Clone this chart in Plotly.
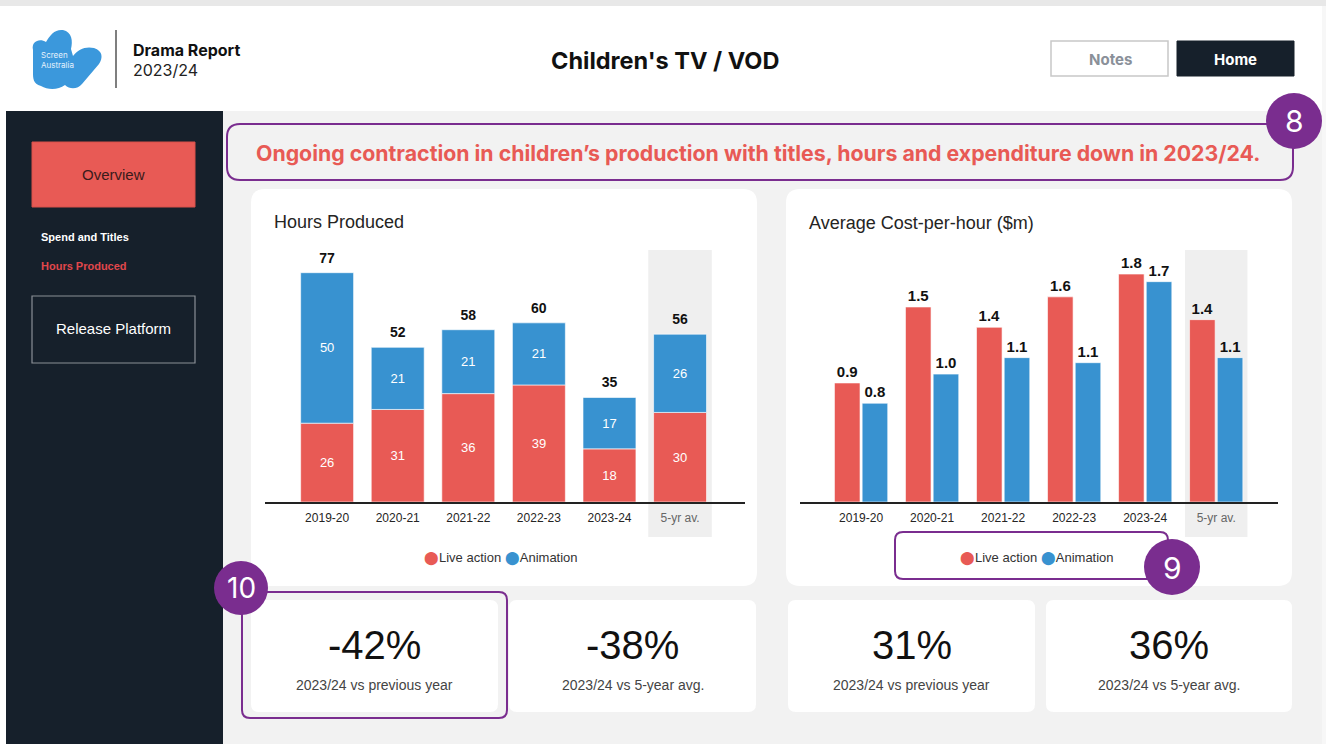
import plotly.graph_objects as go

W, H = 1326, 744

# ---------------- data ----------------
categories = ["2019-20", "2020-21", "2021-22", "2022-23", "2023-24", "5-yr av."]
series_names = ["Live action", "Animation"]
hours_live = [26.4, 31.0, 36.3, 39.2, 17.8, 30.0]
hours_anim = [50.4, 20.8, 21.4, 20.8, 17.2, 26.2]
cost_live = [0.94, 1.54, 1.38, 1.62, 1.80, 1.44]
cost_anim = [0.78, 1.01, 1.14, 1.10, 1.74, 1.14]
kpi_values = ["-42%", "-38%", "31%", "36%"]
kpi_labels = ["2023/24 vs previous year", "2023/24 vs 5-year avg.",
              "2023/24 vs previous year", "2023/24 vs 5-year avg."]
headline = "Ongoing contraction in children\u2019s production with titles, hours and expenditure down in 2023/24."
nav_items = ["Spend and Titles", "Hours Produced"]

# ---------------- style ----------------
RED = "#E85A55"
BLUE = "#3892D0"
NAVY = "#16202B"
BG = "#F2F2F2"
PURPLE = "#7A2D8F"
ARIAL = "Arial, Liberation Sans, sans-serif"
INTER = "Inter, Open Sans, sans-serif"


def X(px):
    return px / W


def Y(py):
    return 1 - py / H


def P(x, y):
    return f"{X(x):.5f},{Y(y):.5f}"


def rrect_path(x0, y0, x1, y1, r):
    return (f"M {P(x0 + r, y0)} L {P(x1 - r, y0)} Q {P(x1, y0)} {P(x1, y0 + r)} "
            f"L {P(x1, y1 - r)} Q {P(x1, y1)} {P(x1 - r, y1)} "
            f"L {P(x0 + r, y1)} Q {P(x0, y1)} {P(x0, y1 - r)} "
            f"L {P(x0, y0 + r)} Q {P(x0, y0)} {P(x0 + r, y0)} Z")


shapes = []
annotations = []


def rect(x0, y0, x1, y1, fill, line=None, lw=0, layer="below"):
    shapes.append(dict(type="rect", xref="paper", yref="paper", x0=X(x0), x1=X(x1),
                       y0=Y(y1), y1=Y(y0), fillcolor=fill, layer=layer,
                       line=dict(color=line or fill, width=lw)))


def rrect(x0, y0, x1, y1, r, fill, line=None, lw=0, layer="below"):
    shapes.append(dict(type="path", xref="paper", yref="paper", path=rrect_path(x0, y0, x1, y1, r),
                       fillcolor=fill, layer=layer,
                       line=dict(color=line or "rgba(0,0,0,0)", width=lw)))


def circle(cx, cy, r, fill, layer="above"):
    shapes.append(dict(type="circle", xref="paper", yref="paper", x0=X(cx - r), x1=X(cx + r),
                       y0=Y(cy + r), y1=Y(cy - r), fillcolor=fill, layer=layer,
                       line=dict(color=fill, width=0)))


def text(x, y, s, size, color, family=ARIAL, xanchor="center", bold=False):
    if bold:
        s = f"<b>{s}</b>"
    annotations.append(dict(xref="paper", yref="paper", x=X(x), y=Y(y), text=s, showarrow=False,
                            xanchor=xanchor, yanchor="middle", align="left",
                            font=dict(size=size, color=color, family=family)))


# ---------------- background / frame ----------------
rect(0, 0, W, 6, "#E8E8E8")
rect(0, 6, W, 111, "#FFFFFF")
rect(6, 111, 223, H, NAVY)
rect(223, 111, 1322, H, BG)
rect(1322, 6, W, H, "#F7F7F7")

# logo
logo = ("M " + P(33, 50) + " C " + P(31, 41) + " " + P(40, 38) + " " + P(46, 42) +
        " C " + P(50, 35) + " " + P(55, 29) + " " + P(63, 30) +
        " C " + P(72, 32) + " " + P(73, 41) + " " + P(71, 49) +
        " L " + P(73, 56) +
        " C " + P(78, 49) + " " + P(86, 46) + " " + P(94, 48) +
        " C " + P(103, 51) + " " + P(103, 58) + " " + P(99, 64) +
        " L " + P(82, 84) +
        " C " + P(78, 89) + " " + P(70, 90) + " " + P(65, 85) +
        " C " + P(58, 90) + " " + P(48, 90) + " " + P(41, 86) +
        " C " + P(33, 84) + " " + P(33, 78) + " " + P(33, 72) + " Z")
shapes.append(dict(type="path", xref="paper", yref="paper", path=logo, fillcolor="#3B98DC",
                   line=dict(width=0, color="#3B98DC"), layer="below"))
text(39, 60, "Screen<br>Australia", 8, "#E6F2FC", INTER, xanchor="left")
shapes.append(dict(type="line", xref="paper", yref="paper", x0=X(116), x1=X(116), y0=Y(30), y1=Y(88),
                   line=dict(color="#555555", width=1.5), layer="below"))
text(131, 50, "Drama Report", 16, "#111111", INTER, xanchor="left", bold=True)
text(131, 70, "2023/24", 16, "#222222", INTER, xanchor="left")
text(665, 60, "Children's TV / VOD", 23.5, "#111111", INTER, bold=True)

# buttons
rect(1051, 41, 1168, 76, "#FFFFFF", "#C8C8C8", 1.5)
text(1110, 59, "Notes", 15, "#8A9099", INTER, bold=True)
rect(1177, 41, 1294, 76, NAVY, NAVY, 1)
text(1235, 59, "Home", 15, "#FFFFFF", INTER, bold=True)

# sidebar
rect(32, 142, 195, 207, RED, "#D8504B", 1)
text(113, 174, "Overview", 15, "#3A1B1B", ARIAL)
text(39, 237, nav_items[0], 11, "#FFFFFF", ARIAL, xanchor="left", bold=True)
text(39, 266, nav_items[1], 11, "#E0474B", ARIAL, xanchor="left", bold=True)
rect(32, 296, 195, 363, NAVY, "#8A8F96", 1.2)
text(113, 329, "Release Platform", 15, "#FFFFFF", ARIAL)

# headline
rrect(227, 124, 1293, 180, 13, BG, PURPLE, 2)
text(758, 153, headline, 21.3, RED, INTER, bold=True)

# chart cards
rrect(251, 189, 757, 586, 14, "#FFFFFF")
rrect(786, 189, 1292, 586, 14, "#FFFFFF")

# 5-yr av shading (category reference)
avg_idx = categories.index("5-yr av.")
shapes.append(dict(type="rect", xref="x", yref="paper", x0=avg_idx - 0.45, x1=avg_idx + 0.45,
                   y0=Y(537), y1=Y(250), fillcolor="#EFEFEF", line=dict(width=0), layer="below"))
shapes.append(dict(type="rect", xref="x2", yref="paper", x0=avg_idx - 0.44, x1=avg_idx + 0.44,
                   y0=Y(537), y1=Y(250), fillcolor="#EFEFEF", line=dict(width=0), layer="below"))

text(272, 222, "Hours Produced", 18, "#252423", ARIAL, xanchor="left")
text(807, 223, "Average Cost-per-hour ($m)", 18, "#252423", ARIAL, xanchor="left")

DOT = "\u2B24"
legend_txt = (f'<span style="color:{RED}">{DOT}</span>{series_names[0]} '
              f'<span style="color:{BLUE}">{DOT}</span>{series_names[1]}')
text(501, 558, legend_txt, 13, "#333333", ARIAL)
text(1037, 558, legend_txt, 13, "#333333", ARIAL)

# KPI cards
kpi_boxes = [(251, 498), (509, 756), (788, 1035), (1046, 1292)]
for (x0, x1), v, lab in zip(kpi_boxes, kpi_values, kpi_labels):
    rrect(x0, 600, x1, 712, 8, "#FFFFFF")
    text((x0 + x1) / 2, 645, v, 40, "#111111", ARIAL)
    text((x0 + x1) / 2, 685, lab, 14, "#444444", ARIAL)

# highlight boxes + badges
rrect(242, 592, 507, 718, 8, "rgba(0,0,0,0)", PURPLE, 2, layer="above")
rrect(895, 532, 1168, 579, 8, "rgba(0,0,0,0)", PURPLE, 2, layer="above")
circle(1294, 121, 28, PURPLE)
circle(1172, 567, 28, PURPLE)
circle(241, 588, 27, PURPLE)
annotations.append(dict(xref="paper", yref="paper", x=X(1294), y=Y(121), text="8", showarrow=False,
                        font=dict(size=30, color="white", family=INTER), xanchor="center", yanchor="middle"))
annotations.append(dict(xref="paper", yref="paper", x=X(1172), y=Y(568), text="9", showarrow=False,
                        font=dict(size=30, color="white", family=INTER), xanchor="center", yanchor="middle"))
annotations.append(dict(xref="paper", yref="paper", x=X(241), y=Y(588), text="10", showarrow=False,
                        font=dict(size=28, color="white", family=INTER), xanchor="center", yanchor="middle"))

# ---------------- traces ----------------
fig = go.Figure()
edge = dict(color="rgba(255,255,255,0.6)", width=1)

fig.add_trace(go.Bar(x=categories, y=hours_live, name=series_names[0], marker=dict(color=RED, line=edge),
                     offsetgroup="h", texttemplate="%{y:.0f}", textposition="inside",
                     insidetextanchor="middle", textangle=0,
                     insidetextfont=dict(color="white", size=13, family=ARIAL),
                     xaxis="x", yaxis="y", showlegend=False, hoverinfo="skip"))
fig.add_trace(go.Bar(x=categories, y=hours_anim, base=hours_live, name=series_names[1],
                     marker=dict(color=BLUE, line=edge),
                     offsetgroup="h", texttemplate="%{y:.0f}", textposition="inside",
                     insidetextanchor="middle", textangle=0,
                     insidetextfont=dict(color="white", size=13, family=ARIAL),
                     xaxis="x", yaxis="y", showlegend=False, hoverinfo="skip"))
totals = [l + a for l, a in zip(hours_live, hours_anim)]
fig.add_trace(go.Scatter(x=categories, y=totals, mode="markers+text", texttemplate="<b>%{y:.0f}</b>",
                         marker=dict(size=9, opacity=0),
                         textposition="top center", textfont=dict(size=14, color="#111111", family=ARIAL),
                         xaxis="x", yaxis="y", showlegend=False, hoverinfo="skip", cliponaxis=False))

fig.add_trace(go.Bar(x=categories, y=cost_live, name=series_names[0], marker=dict(color=RED, line=edge),
                     width=0.36, offset=-0.375, texttemplate="<b>%{y:.1f}</b>", textposition="outside",
                     constraintext="none", cliponaxis=False,
                     outsidetextfont=dict(color="#111111", size=15, family=ARIAL),
                     xaxis="x2", yaxis="y2", showlegend=False, hoverinfo="skip"))
fig.add_trace(go.Bar(x=categories, y=cost_anim, name=series_names[1], marker=dict(color=BLUE, line=edge),
                     width=0.36, offset=0.015, texttemplate="<b>%{y:.1f}</b>", textposition="outside",
                     constraintext="none", cliponaxis=False,
                     outsidetextfont=dict(color="#111111", size=15, family=ARIAL),
                     xaxis="x2", yaxis="y2", showlegend=False, hoverinfo="skip"))

ticktext = [c if c != "5-yr av." else f'<span style="color:#666666">{c}</span>' for c in categories]
xcommon = dict(showline=True, linecolor="#222222", linewidth=1.5, ticks="", showgrid=False,
               zeroline=False, tickvals=categories, ticktext=ticktext, fixedrange=True,
               tickfont=dict(size=12, color="#252423", family=ARIAL), ticklabelstandoff=4)
ycommon = dict(visible=False, showgrid=False, zeroline=False, fixedrange=True,
               domain=[Y(502), Y(250)])

fig.update_layout(
    width=W, height=H, margin=dict(l=0, r=0, t=0, b=0),
    paper_bgcolor="#FFFFFF", plot_bgcolor="rgba(0,0,0,0)",
    barmode="group", bargap=0.25, bargroupgap=0,
    xaxis=dict(domain=[X(265), X(745)], range=[-0.88, 5.92], anchor="y", **xcommon),
    yaxis=dict(range=[0, 84.4], anchor="x", **ycommon),
    xaxis2=dict(domain=[X(800), X(1278)], range=[-0.86, 5.87], anchor="y2", **xcommon),
    yaxis2=dict(range=[0, 1.99], anchor="x2", **ycommon),
    shapes=shapes, annotations=annotations, showlegend=False,
)

fig.write_html("out.html", config=dict(displayModeBar=False),
               post_script="document.body.style.margin='0';document.body.style.overflow='hidden';")
